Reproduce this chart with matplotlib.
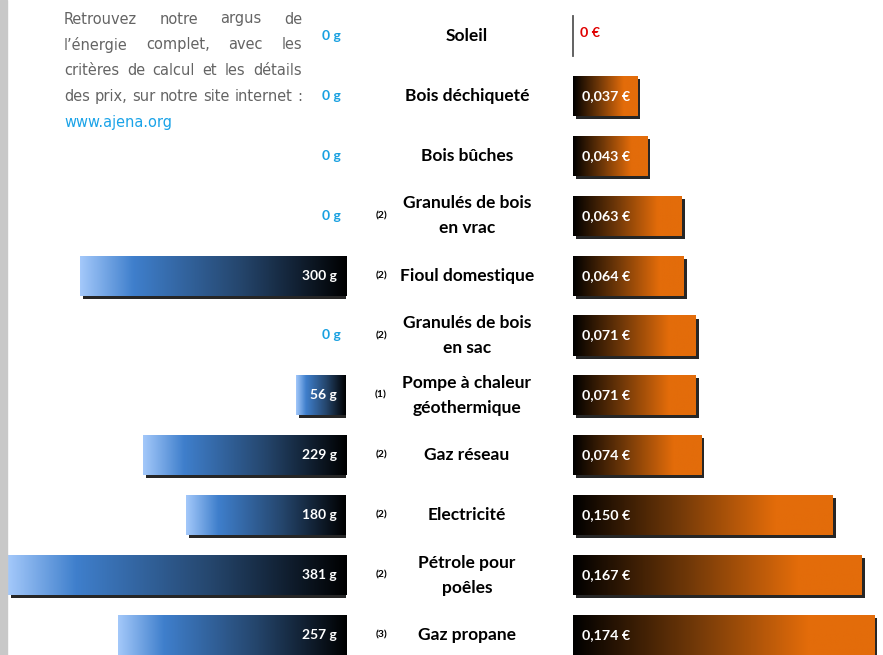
import numpy as np
import matplotlib.pyplot as plt
import matplotlib.patheffects as pe
from matplotlib.colors import LinearSegmentedColormap
from matplotlib.patches import Rectangle

energies = ['Soleil', 'Bois déchiqueté', 'Bois bûches', 'Granulés de bois\nen vrac',
            'Fioul domestique', 'Granulés de bois\nen sac', 'Pompe à chaleur\ngéothermique',
            'Gaz réseau', 'Electricité', 'Pétrole pour\npoêles', 'Gaz propane']
notes = ['', '', '', '(2)', '(2)', '(2)', '(1)', '(2)', '(2)', '(2)', '(3)']
co2 = [0, 0, 0, 0, 300, 0, 56, 229, 180, 381, 257]
prix = [0, 0.037, 0.043, 0.063, 0.064, 0.071, 0.071, 0.074, 0.150, 0.167, 0.174]
co2_labels = ['%d g' % v for v in co2]
prix_labels = [('%.3f €' % v).replace('.', ',') if v else '0 €' for v in prix]

intro = ['Retrouvez notre argus de', 'l\u2019énergie complet, avec les',
         'critères de calcul et les détails', 'des prix, sur notre site internet :']
url = 'www.ajena.org'

W, H = 883, 655
fig = plt.figure(figsize=(W / 100, H / 100), dpi=100)
fig.patches.append(Rectangle((0, 0), 7 / W, 1, transform=fig.transFigure,
                             color='#c8c8c8', zorder=0))

ylim = (10.334, -0.601)
bh = 0.668
ys = np.arange(len(energies))

blue = LinearSegmentedColormap.from_list('b', [(0, '#a3c8fa'), (0.2, '#3f7fcc'),
                                               (0.6, '#25466d'), (1, '#000000')])
orange = LinearSegmentedColormap.from_list('o', [(0, '#000000'), (0.4, '#703808'),
                                                 (0.78, '#e36c0a'), (1, '#e36c0a')])
grad = np.linspace(0, 1, 256).reshape(1, -1)
shadow = [pe.SimplePatchShadow(offset=(2.2, -2.2), shadow_rgbFace='black', alpha=0.85),
          pe.Normal()]
bold = dict(family=['Lato', 'DejaVu Sans'], fontweight='bold')

axL = fig.add_axes([0, 0, 346 / W, 1])
axR = fig.add_axes([573 / W, 0, 310 / W, 1])
axC = fig.add_axes([346 / W, 0, (573 - 346) / W, 1])

for ax, vals, cmap in [(axL, co2, blue), (axR, prix, orange)]:
    bars = ax.barh(ys, vals, height=bh, color='black', zorder=2)
    for b, v in zip(bars, vals):
        if v == 0:
            continue
        b.set_path_effects(shadow)
        im = ax.imshow(grad, cmap=cmap, aspect='auto', zorder=3,
                       extent=[v, 0, b.get_y() + bh, b.get_y()] if ax is axL
                       else [0, v, b.get_y() + bh, b.get_y()])
        im.set_clip_path(b)

for y, v, lab in zip(ys, co2, co2_labels):
    if v:
        axL.annotate(lab, (0, y), xytext=(-6.5, 0), textcoords='offset points',
                     ha='right', va='center', color='white', fontsize=10, zorder=5, **bold)
    else:
        axL.annotate(lab, (0, y), xytext=(-3.5, 0), textcoords='offset points',
                     ha='right', va='center', color='#18a0e0', fontsize=10, zorder=5, **bold)

for y, v, lab in zip(ys, prix, prix_labels):
    if v:
        axR.annotate(lab, (0, y), xytext=(6.5, 0), textcoords='offset points',
                     ha='left', va='center', color='white', fontsize=10.3, zorder=5, **bold)
    else:
        axR.plot([0, 0], [y - bh / 2, y + bh / 2], color='#555555', lw=1.3,
                 clip_on=False, zorder=4)
        axR.annotate(lab, (0, y - 0.05), xytext=(5, 0), textcoords='offset points',
                     ha='left', va='center', color='#e00000', fontsize=10.3, zorder=5, **bold)

axC.set_xlim(346, 573)
for y, name, n in zip(ys, energies, notes):
    axC.text(467, y, name, ha='center', va='center', fontsize=12.5,
             linespacing=1.7, color='black', **bold)
    if n:
        axC.text(381, y, n, ha='center', va='center', fontsize=7.5, color='black', **bold)

axL.set_xlim(390, 0)
axR.set_xlim(0, 0.1792)
for ax in (axL, axR, axC):
    ax.set_ylim(*ylim)
    ax.axis('off')

# texte d'intro justifié
renderer = fig.canvas.get_renderer()
txt = dict(family='DejaVu Sans', fontstretch='condensed')
x0, x1 = 64, 302
probe = [fig.text(0, 0, l, fontsize=14, **txt) for l in intro]
widest = max(t.get_window_extent(renderer).width for t in probe)
for t in probe:
    t.remove()
size = min(14.5, 14 * (x1 - x0) / widest)
for i, line in enumerate(intro):
    y = 1 - (19 + 25.8 * i) / H
    ts = [fig.text(0, y, w, ha='left', va='center', color='#646464', fontsize=size, **txt)
          for w in line.split(' ')]
    widths = [t.get_window_extent(renderer).width for t in ts]
    gap = (x1 - x0 - sum(widths)) / (len(ts) - 1)
    x = x0
    for t, w in zip(ts, widths):
        t.set_x(x / W)
        x += w + gap
fig.text(x0 / W, 1 - (19 + 25.8 * 4) / H, url, ha='left', va='center',
         color='#1aa3e8', fontsize=size, **txt)

fig.savefig('out.png', dpi=100)
